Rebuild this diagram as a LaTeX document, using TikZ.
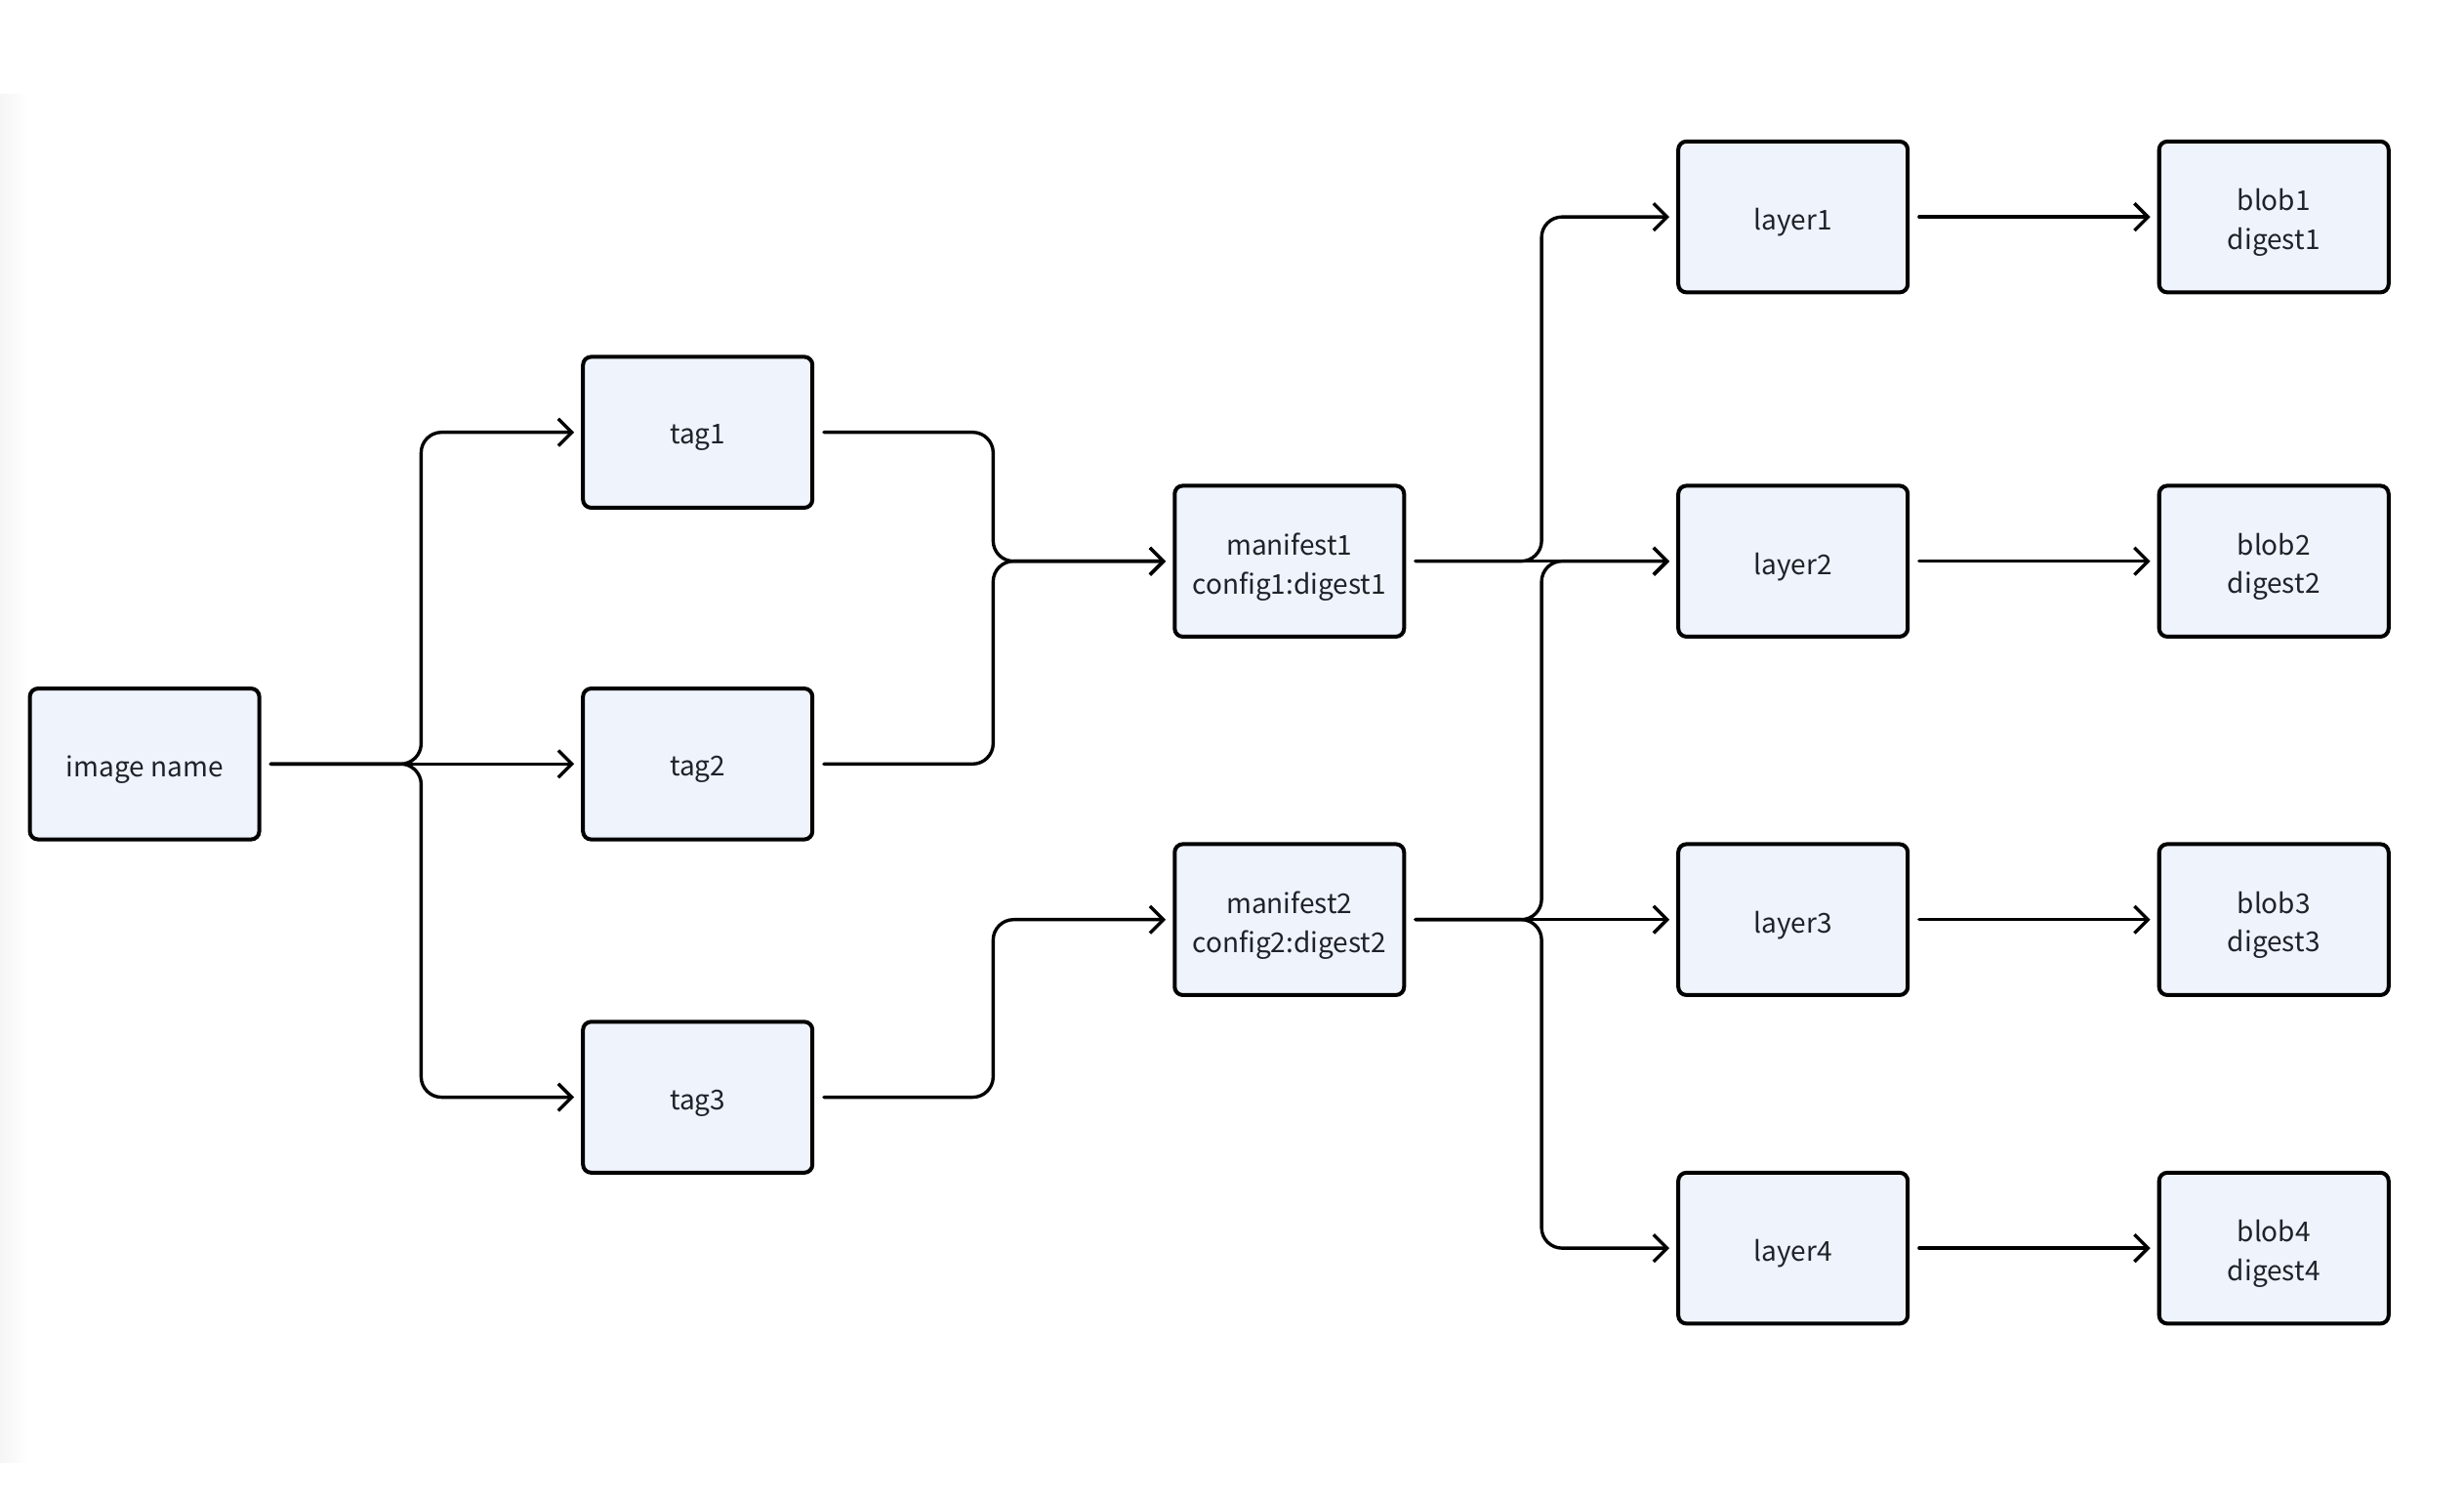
\documentclass[tikz,border=0pt]{standalone}
\usepackage{fontspec}
\setmainfont{Noto Sans CJK SC}
\usetikzlibrary{arrows.meta,positioning}
\definecolor{boxfill}{HTML}{EFF3FB}
\definecolor{txt}{HTML}{1F2329}
\tikzset{
  boxtext/.style={font=\fontsize{8.7}{12.3}\selectfont, text=txt, align=center,
    inner sep=0pt, yshift=-1.8pt},
  box/.style={draw=black, line width=1.25pt, fill=boxfill, rounded corners=2.6pt,
    minimum width=73pt, minimum height=48pt, inner sep=0pt,
    label={[boxtext]center:#1}},
  conn/.style={draw=black, line width=1.05pt, rounded corners=6.5pt,
    line cap=round, line join=round,
    -{Straight Barb[length=4.3pt,width=8.6pt,line width=1.05pt]},
    shorten <=3pt, shorten >=2.2pt}
}
\begin{document}
\begin{tikzpicture}[x=0.5pt,y=-0.5pt]
\useasboundingbox (0,0) rectangle (1568,953);
% faint edge shading
\shade[left color=black!4, right color=white, draw=none] (0,60) rectangle (18,930);
% nodes
\node[box={image name}] (img) at (92,486) {};
\node[box={tag1}] (tag1) at (444,275) {};
\node[box={tag2}] (tag2) at (444,486) {};
\node[box={tag3}] (tag3) at (444,698) {};
\node[box={manifest1\\config1:digest1}] (man1) at (820.5,357) {};
\node[box={manifest2\\config2:digest2}] (man2) at (820.5,585) {};
\node[box={layer1}] (lay1) at (1141,138) {};
\node[box={layer2}] (lay2) at (1141,357) {};
\node[box={layer3}] (lay3) at (1141,585) {};
\node[box={layer4}] (lay4) at (1141,794) {};
\node[box={blob1\\digest1}] (blob1) at (1447,138) {};
\node[box={blob2\\digest2}] (blob2) at (1447,357) {};
\node[box={blob3\\digest3}] (blob3) at (1447,585) {};
\node[box={blob4\\digest4}] (blob4) at (1447,794) {};
% junction coordinates
\coordinate (j1) at (268,486);
\coordinate (j2) at (632,357);
\coordinate (j3) at (632,585);
\coordinate (j4) at (981,357);
\coordinate (j5) at (981,585);
% connectors
\draw[conn] (img.east) -- (j1) |- (tag1.west);
\draw[conn] (img.east) -- (tag2.west);
\draw[conn] (img.east) -- (j1) |- (tag3.west);
\draw[conn] (tag1.east) -| (j2) -- (man1.west);
\draw[conn] (tag2.east) -| (j2) -- (man1.west);
\draw[conn] (tag3.east) -| (j3) -- (man2.west);
\draw[conn] (man1.east) -- (j4) |- (lay1.west);
\draw[conn] (man1.east) -- (lay2.west);
\draw[conn] (man2.east) -- (j5) |- (lay2.west);
\draw[conn] (man2.east) -- (lay3.west);
\draw[conn] (man2.east) -- (j5) |- (lay4.west);
\draw[conn] (lay1.east) -- (blob1.west);
\draw[conn] (lay2.east) -- (blob2.west);
\draw[conn] (lay3.east) -- (blob3.west);
\draw[conn] (lay4.east) -- (blob4.west);
\end{tikzpicture}
\end{document}
